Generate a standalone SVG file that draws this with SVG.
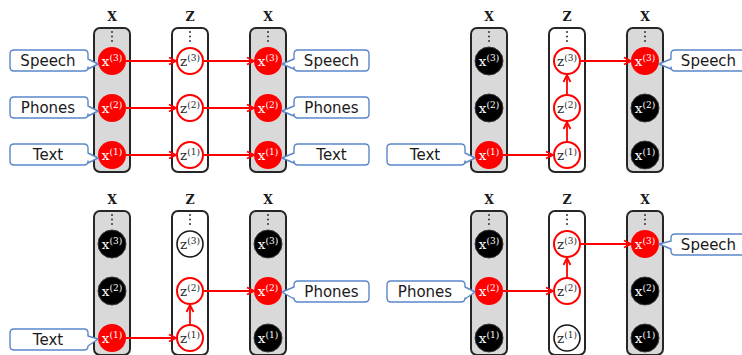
<svg xmlns="http://www.w3.org/2000/svg" width="742" height="355" viewBox="0 0 742 355">
  <defs>
    <style>
      .colx{fill:#d9d9d9;stroke:#262626;stroke-width:2}
      .colz{fill:#ffffff;stroke:#262626;stroke-width:2}
      .dot{fill:#333333}
      .head{font-family:"DejaVu Serif",serif;font-size:12.5px;font-weight:bold;fill:#1a1a1a;text-anchor:middle}
      .red{fill:#ff0000}
      .blk{fill:#000000;stroke:#3a3a3a;stroke-width:1}
      .zr{fill:#ffffff;stroke:#ff0000;stroke-width:2}
      .zk{fill:#ffffff;stroke:#1a1a1a;stroke-width:1.6}
      .nl{font-family:"DejaVu Serif",serif;font-size:13.5px;text-anchor:middle}
      .nl .sup{font-size:9px}
      .w{fill:#ffffff}
      .d{fill:#262626}
      .call{fill:#ffffff;stroke:#5b87c9;stroke-width:1.4;stroke-linejoin:round}
      .ct{font-family:"DejaVu Sans",Verdana,sans-serif;font-size:15px;fill:#1a1a1a;text-anchor:middle}
      .arr{stroke:#ff0000;stroke-width:1.8;fill:none;marker-end:url(#head)}
    </style>
    <marker id="head" markerUnits="userSpaceOnUse" markerWidth="10" markerHeight="10" viewBox="0 0 10 10" refX="9" refY="5" orient="auto">
      <path d="M2,1.5 L9,5 L2,8.5" fill="none" stroke="#ff0000" stroke-width="1.8" stroke-linejoin="miter"/>
    </marker>
    <!-- column frame with vertical ellipsis, drawn once per column -->
    <g id="colX">
      <rect class="colx" x="-18" y="28" width="36" height="144" rx="6"/>
      <circle class="dot" cx="0" cy="32" r="1"/>
      <circle class="dot" cx="0" cy="36.5" r="1"/>
      <circle class="dot" cx="0" cy="41" r="1"/>
    </g>
    <g id="colZ">
      <rect class="colz" x="-18" y="28" width="36" height="144" rx="6"/>
      <circle class="dot" cx="0" cy="32" r="1"/>
      <circle class="dot" cx="0" cy="36.5" r="1"/>
      <circle class="dot" cx="0" cy="41" r="1"/>
    </g>
  </defs>
  <rect width="742" height="355" fill="#ffffff"/>

  <!-- Panel 1: all observed -->
  <g id="panel1">
    <g id="p1-columns">
      <use href="#colX" x="112"/><use href="#colZ" x="190"/><use href="#colX" x="268"/>
      <text class="head" x="112" y="21">X</text><text class="head" x="190" y="21">Z</text><text class="head" x="268" y="21">X</text>
    </g>
    <g id="p1-connectors">
      <line class="arr" x1="126" y1="61" x2="176" y2="61"/>
      <line class="arr" x1="204" y1="61" x2="254" y2="61"/>
      <line class="arr" x1="126" y1="108" x2="176" y2="108"/>
      <line class="arr" x1="204" y1="108" x2="254" y2="108"/>
      <line class="arr" x1="126" y1="155" x2="176" y2="155"/>
      <line class="arr" x1="204" y1="155" x2="254" y2="155"/>
    </g>
    <g id="p1-in-x3"><circle class="red" cx="112" cy="61" r="14"/><text class="nl w" x="112" y="66">x<tspan class="sup" dy="-5">(3)</tspan></text></g>
    <g id="p1-in-x2"><circle class="red" cx="112" cy="108" r="14"/><text class="nl w" x="112" y="113">x<tspan class="sup" dy="-5">(2)</tspan></text></g>
    <g id="p1-in-x1"><circle class="red" cx="112" cy="155" r="14"/><text class="nl w" x="112" y="160">x<tspan class="sup" dy="-5">(1)</tspan></text></g>
    <g id="p1-z3"><circle class="zr" cx="190" cy="61" r="13"/><text class="nl d" x="190" y="66">z<tspan class="sup" dy="-5">(3)</tspan></text></g>
    <g id="p1-z2"><circle class="zr" cx="190" cy="108" r="13"/><text class="nl d" x="190" y="113">z<tspan class="sup" dy="-5">(2)</tspan></text></g>
    <g id="p1-z1"><circle class="zr" cx="190" cy="155" r="13"/><text class="nl d" x="190" y="160">z<tspan class="sup" dy="-5">(1)</tspan></text></g>
    <g id="p1-out-x3"><circle class="red" cx="268" cy="61" r="14"/><text class="nl w" x="268" y="66">x<tspan class="sup" dy="-5">(3)</tspan></text></g>
    <g id="p1-out-x2"><circle class="red" cx="268" cy="108" r="14"/><text class="nl w" x="268" y="113">x<tspan class="sup" dy="-5">(2)</tspan></text></g>
    <g id="p1-out-x1"><circle class="red" cx="268" cy="155" r="14"/><text class="nl w" x="268" y="160">x<tspan class="sup" dy="-5">(1)</tspan></text></g>
    <g id="p1-call-in-speech"><path class="call" d="M14,50 H84 Q88,50 88,54 V59 L98,64 L88,69 V67 Q88,71 84,71 H14 Q10,71 10,67 V54 Q10,50 14,50 Z"/><text class="ct" x="48" y="66">Speech</text></g>
    <g id="p1-call-in-phones"><path class="call" d="M14,97 H84 Q88,97 88,101 V106 L98,111 L88,116 V114 Q88,118 84,118 H14 Q10,118 10,114 V101 Q10,97 14,97 Z"/><text class="ct" x="48" y="113">Phones</text></g>
    <g id="p1-call-in-text"><path class="call" d="M14,144 H84 Q88,144 88,148 V153 L98,158 L88,163 V161 Q88,165 84,165 H14 Q10,165 10,161 V148 Q10,144 14,144 Z"/><text class="ct" x="48" y="160">Text</text></g>
    <g id="p1-call-out-speech"><path class="call" d="M298,50 H365 Q369,50 369,54 V67 Q369,71 365,71 H298 Q294,71 294,67 V69 L282,64 L294,59 V54 Q294,50 298,50 Z"/><text class="ct" x="331.5" y="66">Speech</text></g>
    <g id="p1-call-out-phones"><path class="call" d="M298,97 H365 Q369,97 369,101 V114 Q369,118 365,118 H298 Q294,118 294,114 V116 L282,111 L294,106 V101 Q294,97 298,97 Z"/><text class="ct" x="331.5" y="113">Phones</text></g>
    <g id="p1-call-out-text"><path class="call" d="M298,144 H365 Q369,144 369,148 V161 Q369,165 365,165 H298 Q294,165 294,161 V163 L282,158 L294,153 V148 Q294,144 298,144 Z"/><text class="ct" x="331.5" y="160">Text</text></g>
  </g>

  <!-- Panel 2: text to speech -->
  <g id="panel2" transform="translate(377,0)">
    <g id="p2-columns">
      <use href="#colX" x="112"/><use href="#colZ" x="190"/><use href="#colX" x="268"/>
      <text class="head" x="112" y="21">X</text><text class="head" x="190" y="21">Z</text><text class="head" x="268" y="21">X</text>
    </g>
    <g id="p2-connectors">
      <line class="arr" x1="126" y1="155" x2="176" y2="155"/>
      <line class="arr" x1="190" y1="141" x2="190" y2="122"/>
      <line class="arr" x1="190" y1="94" x2="190" y2="75"/>
      <line class="arr" x1="204" y1="61" x2="254" y2="61"/>
    </g>
    <g id="p2-in-x3"><circle class="blk" cx="112" cy="61" r="14"/><text class="nl w" x="112" y="66">x<tspan class="sup" dy="-5">(3)</tspan></text></g>
    <g id="p2-in-x2"><circle class="blk" cx="112" cy="108" r="14"/><text class="nl w" x="112" y="113">x<tspan class="sup" dy="-5">(2)</tspan></text></g>
    <g id="p2-in-x1"><circle class="red" cx="112" cy="155" r="14"/><text class="nl w" x="112" y="160">x<tspan class="sup" dy="-5">(1)</tspan></text></g>
    <g id="p2-z3"><circle class="zr" cx="190" cy="61" r="13"/><text class="nl d" x="190" y="66">z<tspan class="sup" dy="-5">(3)</tspan></text></g>
    <g id="p2-z2"><circle class="zr" cx="190" cy="108" r="13"/><text class="nl d" x="190" y="113">z<tspan class="sup" dy="-5">(2)</tspan></text></g>
    <g id="p2-z1"><circle class="zr" cx="190" cy="155" r="13"/><text class="nl d" x="190" y="160">z<tspan class="sup" dy="-5">(1)</tspan></text></g>
    <g id="p2-out-x3"><circle class="red" cx="268" cy="61" r="14"/><text class="nl w" x="268" y="66">x<tspan class="sup" dy="-5">(3)</tspan></text></g>
    <g id="p2-out-x2"><circle class="blk" cx="268" cy="108" r="14"/><text class="nl w" x="268" y="113">x<tspan class="sup" dy="-5">(2)</tspan></text></g>
    <g id="p2-out-x1"><circle class="blk" cx="268" cy="155" r="14"/><text class="nl w" x="268" y="160">x<tspan class="sup" dy="-5">(1)</tspan></text></g>
    <g id="p2-call-in-text"><path class="call" d="M14,144 H84 Q88,144 88,148 V153 L98,158 L88,163 V161 Q88,165 84,165 H14 Q10,165 10,161 V148 Q10,144 14,144 Z"/><text class="ct" x="48" y="160">Text</text></g>
    <g id="p2-call-out-speech"><path class="call" d="M298,50 H365 Q369,50 369,54 V67 Q369,71 365,71 H298 Q294,71 294,67 V69 L282,64 L294,59 V54 Q294,50 298,50 Z"/><text class="ct" x="331.5" y="66">Speech</text></g>
  </g>

  <!-- Panel 3: text to phones -->
  <g id="panel3" transform="translate(0,183)">
    <g id="p3-columns">
      <use href="#colX" x="112"/><use href="#colZ" x="190"/><use href="#colX" x="268"/>
      <text class="head" x="112" y="21">X</text><text class="head" x="190" y="21">Z</text><text class="head" x="268" y="21">X</text>
    </g>
    <g id="p3-connectors">
      <line class="arr" x1="126" y1="155" x2="176" y2="155"/>
      <line class="arr" x1="190" y1="141" x2="190" y2="122"/>
      <line class="arr" x1="204" y1="108" x2="254" y2="108"/>
    </g>
    <g id="p3-in-x3"><circle class="blk" cx="112" cy="61" r="14"/><text class="nl w" x="112" y="66">x<tspan class="sup" dy="-5">(3)</tspan></text></g>
    <g id="p3-in-x2"><circle class="blk" cx="112" cy="108" r="14"/><text class="nl w" x="112" y="113">x<tspan class="sup" dy="-5">(2)</tspan></text></g>
    <g id="p3-in-x1"><circle class="red" cx="112" cy="155" r="14"/><text class="nl w" x="112" y="160">x<tspan class="sup" dy="-5">(1)</tspan></text></g>
    <g id="p3-z3"><circle class="zk" cx="190" cy="61" r="13"/><text class="nl d" x="190" y="66">z<tspan class="sup" dy="-5">(3)</tspan></text></g>
    <g id="p3-z2"><circle class="zr" cx="190" cy="108" r="13"/><text class="nl d" x="190" y="113">z<tspan class="sup" dy="-5">(2)</tspan></text></g>
    <g id="p3-z1"><circle class="zr" cx="190" cy="155" r="13"/><text class="nl d" x="190" y="160">z<tspan class="sup" dy="-5">(1)</tspan></text></g>
    <g id="p3-out-x3"><circle class="blk" cx="268" cy="61" r="14"/><text class="nl w" x="268" y="66">x<tspan class="sup" dy="-5">(3)</tspan></text></g>
    <g id="p3-out-x2"><circle class="red" cx="268" cy="108" r="14"/><text class="nl w" x="268" y="113">x<tspan class="sup" dy="-5">(2)</tspan></text></g>
    <g id="p3-out-x1"><circle class="blk" cx="268" cy="155" r="14"/><text class="nl w" x="268" y="160">x<tspan class="sup" dy="-5">(1)</tspan></text></g>
    <g id="p3-call-in-text"><path class="call" d="M14,146 H84 Q88,146 88,150 V153 L98,156 L88,163 V163 Q88,167 84,167 H14 Q10,167 10,163 V150 Q10,146 14,146 Z"/><text class="ct" x="48" y="162">Text</text></g>
    <g id="p3-call-out-phones"><path class="call" d="M298,98 H365 Q369,98 369,102 V115 Q369,119 365,119 H298 Q294,119 294,115 V116 L282,109 L294,104 V102 Q294,98 298,98 Z"/><text class="ct" x="331.5" y="114">Phones</text></g>
  </g>

  <!-- Panel 4: phones to speech -->
  <g id="panel4" transform="translate(377,183)">
    <g id="p4-columns">
      <use href="#colX" x="112"/><use href="#colZ" x="190"/><use href="#colX" x="268"/>
      <text class="head" x="112" y="21">X</text><text class="head" x="190" y="21">Z</text><text class="head" x="268" y="21">X</text>
    </g>
    <g id="p4-connectors">
      <line class="arr" x1="126" y1="108" x2="176" y2="108"/>
      <line class="arr" x1="190" y1="94" x2="190" y2="75"/>
      <line class="arr" x1="204" y1="61" x2="254" y2="61"/>
    </g>
    <g id="p4-in-x3"><circle class="blk" cx="112" cy="61" r="14"/><text class="nl w" x="112" y="66">x<tspan class="sup" dy="-5">(3)</tspan></text></g>
    <g id="p4-in-x2"><circle class="red" cx="112" cy="108" r="14"/><text class="nl w" x="112" y="113">x<tspan class="sup" dy="-5">(2)</tspan></text></g>
    <g id="p4-in-x1"><circle class="blk" cx="112" cy="155" r="14"/><text class="nl w" x="112" y="160">x<tspan class="sup" dy="-5">(1)</tspan></text></g>
    <g id="p4-z3"><circle class="zr" cx="190" cy="61" r="13"/><text class="nl d" x="190" y="66">z<tspan class="sup" dy="-5">(3)</tspan></text></g>
    <g id="p4-z2"><circle class="zr" cx="190" cy="108" r="13"/><text class="nl d" x="190" y="113">z<tspan class="sup" dy="-5">(2)</tspan></text></g>
    <g id="p4-z1"><circle class="zk" cx="190" cy="155" r="13"/><text class="nl d" x="190" y="160">z<tspan class="sup" dy="-5">(1)</tspan></text></g>
    <g id="p4-out-x3"><circle class="red" cx="268" cy="61" r="14"/><text class="nl w" x="268" y="66">x<tspan class="sup" dy="-5">(3)</tspan></text></g>
    <g id="p4-out-x2"><circle class="blk" cx="268" cy="108" r="14"/><text class="nl w" x="268" y="113">x<tspan class="sup" dy="-5">(2)</tspan></text></g>
    <g id="p4-out-x1"><circle class="blk" cx="268" cy="155" r="14"/><text class="nl w" x="268" y="160">x<tspan class="sup" dy="-5">(1)</tspan></text></g>
    <g id="p4-call-in-phones"><path class="call" d="M14,98 H84 Q88,98 88,102 V104 L98,109 L88,116 V115 Q88,119 84,119 H14 Q10,119 10,115 V102 Q10,98 14,98 Z"/><text class="ct" x="48" y="114">Phones</text></g>
    <g id="p4-call-out-speech"><path class="call" d="M298,51 H365 Q369,51 369,55 V68 Q369,72 365,72 H298 Q294,72 294,68 V66 L282,61 L294,58 V55 Q294,51 298,51 Z"/><text class="ct" x="331.5" y="67">Speech</text></g>
  </g>
</svg>
